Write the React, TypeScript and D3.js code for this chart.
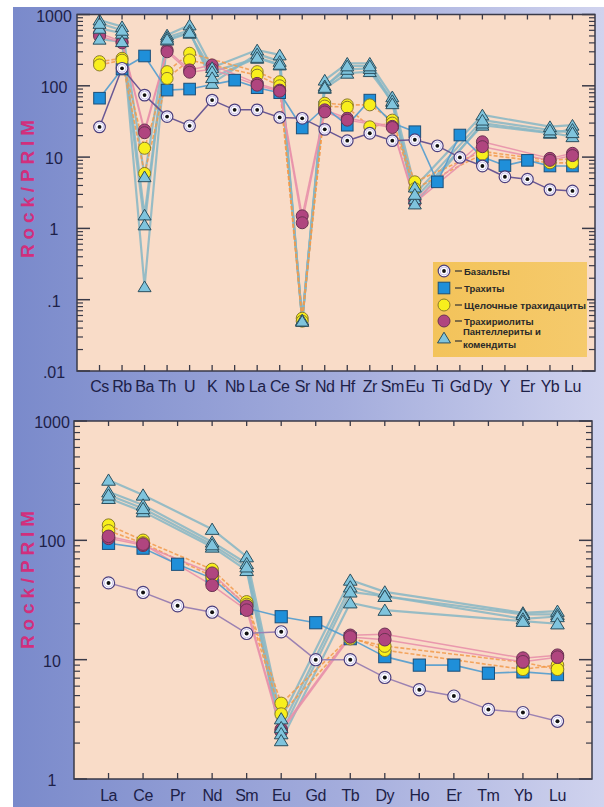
import React from "react";
import * as d3 from "d3";

const TOP_ELEMENTS = ["Cs","Rb","Ba","Th","U","K","Nb","La","Ce","Sr","Nd","Hf","Zr","Sm","Eu","Ti","Gd","Dy","Y","Er","Yb","Lu"];
const REE_ELEMENTS = ["La","Ce","Pr","Nd","Sm","Eu","Gd","Tb","Dy","Ho","Er","Tm","Yb","Lu"];

const Y_TICKS_TOP = [1000, 100, 10, 1, 0.1, 0.01];
const Y_TICK_LABELS_TOP = ["1000", "100", "10", "1", ".1", ".01"];
const Y_TICKS_BOT = [1000, 100, 10, 1];
const Y_TICK_LABELS_BOT = ["1000", "100", "10", "1"];

type V = number | null;

// ---- spider diagram (top) ----
const basaltTop: V[] = [26.5,176,74,37,27.5,63,46,46,36,35,24.5,17,21.6,17,17.5,14.4,9.9,7.5,5.3,4.9,3.5,3.35];
const trachyteTop: V[] = [67,172,262,87,90,null,120,94,80,25.6,50,28,63,30,22.7,4.5,20.4,10,7.6,9,7.5,7.5];
const yellowTop1: V[] = [218,243,13.3,158,286,null,null,158,114,0.055,57,54,54,33,4.5,null,null,12,null,null,9,9.5];
const yellowTop2: V[] = [196,229,5.9,127,230,null,null,141,100,0.05,52,50,26.6,30,3.6,null,null,11,null,null,8.3,8.3];
const purpleTop1: V[] = [545,416,24,318,167,196,null,108,87,1.5,46,35,null,27,2.5,null,null,16.4,null,null,9.6,11.3];
const purpleTop2: V[] = [500,400,22,300,155,170,null,102,84,1.2,43,33,null,26,2.3,null,null,14,null,null,9,10.5];
const triTop1: V[] = [837,675,5.3,516,713,180,null,318,271,0.05,120,207,207,70,3.8,null,null,39,null,null,26.7,28];
const triTop2: V[] = [640,545,1.54,437,545,158,null,243,196,0.05,92,150,158,60,2.6,null,null,28,null,null,21.6,24.5];
const triTop3: V[] = [450,416,1.12,480,600,108,null,280,220,0.052,100,170,175,62,2.2,null,null,30,null,null,22,19.3];
const triTop4: V[] = [750,600,0.152,450,560,130,null,250,200,0.05,95,190,190,56,3.0,null,null,33,null,null,24,22];

// ---- REE diagram (bottom) ----
const basaltBot: V[] = [44,36.6,28.3,25,16.6,17.1,10,10,7.1,5.6,4.95,3.83,3.6,3.05];
const trachyteBot: V[] = [94.4,86,63,48,27,22.9,20.4,15,10.6,9,9,7.7,7.9,7.5];
const yellowBot1: V[] = [134,100,null,57,30.5,4.3,null,15.5,12,null,null,null,8.3,9];
const yellowBot2: V[] = [120,95,null,50,29,3.5,null,15,13,null,null,null,9.5,8.3];
const purpleBot1: V[] = [104,91,null,53,28,2.6,null,16,16.3,null,null,null,10.3,10.9];
const purpleBot2: V[] = [108,93,null,42,26,2.5,null,15.5,14.7,null,null,null,9.6,10.5];
const triBot1: V[] = [320,240,null,124,73,3.2,null,46.5,37,null,null,null,24.7,25.5];
const triBot2: V[] = [255,198,null,97,64,2.7,null,40.8,34,null,null,null,24,24];
const triBot3: V[] = [225,174,null,88,56,2.4,null,37,34,null,null,null,22,23];
const triBot4: V[] = [240,185,null,92,60,2.1,null,30,26,null,null,null,21,20];

const LEGEND_LABELS = ["Базальты", "Трахиты", "Щелочные трахидациты", "Трахириолиты", "Пантеллериты и", "комендиты"];

type Kind = "basalt" | "trachyte" | "yellow" | "purple" | "tri";

const LINE_STYLE: Record<Kind, { stroke: string; width: number; op: number; dash?: string }> = {
  tri: { stroke: "#86b6c4", width: 2.2, op: 0.85 },
  yellow: { stroke: "#f29a4a", width: 1.6, op: 0.85, dash: "4,2" },
  purple: { stroke: "#e890aa", width: 1.5, op: 0.9 },
  trachyte: { stroke: "#5a9fcf", width: 1.6, op: 0.95 },
  basalt: { stroke: "#6e5c98", width: 1.5, op: 1 },
};

function Marker({ kind, x, y, s }: { kind: Kind; x: number; y: number; s: number }) {
  if (kind === "basalt") {
    return (
      <g>
        <circle cx={x} cy={y} r={5.8 * s} fill="#ffffff" stroke="#4c3f7e" strokeWidth={1.2} />
        <circle cx={x} cy={y} r={4 * s} fill="none" stroke="#c9c0ea" strokeWidth={1} />
        <circle cx={x} cy={y} r={1.9 * s} fill="#111" />
      </g>
    );
  }
  if (kind === "trachyte") {
    const h = 5.8 * s;
    return <rect x={x - h} y={y - h} width={2 * h} height={2 * h} fill="#1f8fd9" stroke="#1c4f78" strokeWidth={1} />;
  }
  if (kind === "yellow") {
    return <circle cx={x} cy={y} r={6 * s} fill="#f8ef1c" stroke="#8a7a2a" strokeWidth={1} />;
  }
  if (kind === "purple") {
    return <circle cx={x} cy={y} r={6 * s} fill="#b0457f" stroke="#6b3352" strokeWidth={1} />;
  }
  const w = 6.5 * s;
  const h = 5.8 * s;
  return (
    <path
      d={`M${x},${y - h}L${x + w},${y + h * 0.85}L${x - w},${y + h * 0.85}Z`}
      fill="#7fc4dd"
      stroke="#2b4f5e"
      strokeWidth={1}
    />
  );
}

interface PanelProps {
  cats: string[];
  series: { kind: Kind; values: V[] }[];
  x0: number; x1: number; y0: number; y1: number;
  yMax: number; yMin: number;
  ticks: number[]; tickLabels: string[];
  tickLabelX: number;
  catLabelY: number;
  yTitleCenter: number;
  basaltStroke: string;
  ms: number;
}

function Panel(p: PanelProps) {
  const x = d3.scalePoint<string>().domain(p.cats).range([p.x0, p.x1]).padding(1);
  const y = d3.scaleLog().domain([p.yMin, p.yMax]).range([p.y1, p.y0]);
  const line = d3
    .line<{ c: string; v: number }>()
    .x((d) => x(d.c) as number)
    .y((d) => y(d.v));

  const pts = (vals: V[]) =>
    p.cats.map((c, i) => ({ c, v: vals[i] })).filter((d) => d.v != null) as { c: string; v: number }[];

  const minor: number[] = [];
  for (let e = Math.round(Math.log10(p.yMin)); e < Math.round(Math.log10(p.yMax)); e++) {
    for (let k = 2; k <= 9; k++) minor.push(k * Math.pow(10, e));
  }

  const order: Kind[] = ["tri", "yellow", "purple", "trachyte", "basalt"];
  const markerOrder: Kind[] = ["trachyte", "yellow", "purple", "tri", "basalt"];

  return (
    <g>
      <rect x={p.x0} y={p.y0} width={p.x1 - p.x0} height={p.y1 - p.y0} fill="#f9dcc8" />
      {order.map((k) =>
        p.series
          .filter((s) => s.kind === k)
          .map((s, i) => {
            const st = LINE_STYLE[k];
            return (
              <path
                key={k + i}
                d={line(pts(s.values)) || ""}
                fill="none"
                stroke={k === "basalt" ? p.basaltStroke : st.stroke}
                strokeWidth={st.width}
                strokeOpacity={st.op}
                strokeDasharray={st.dash}
                strokeLinejoin="round"
              />
            );
          })
      )}
      {markerOrder.map((k) =>
        p.series
          .filter((s) => s.kind === k)
          .map((s, i) => (
            <g key={"m" + k + i}>
              {pts(s.values).map((d, j) => (
                <Marker key={j} kind={k} x={x(d.c) as number} y={y(d.v)} s={p.ms} />
              ))}
            </g>
          ))
      )}
      <rect x={p.x0} y={p.y0} width={p.x1 - p.x0} height={p.y1 - p.y0} fill="none" stroke="#3a3a48" strokeWidth={1.5} />
      {p.ticks.map((t, i) => (
        <g key={"yt" + i}>
          <line x1={p.x0} x2={p.x0 + 13} y1={y(t)} y2={y(t)} stroke="#3a3a48" strokeWidth={1.5} />
          <line x1={p.x1} x2={p.x1 - 13} y1={y(t)} y2={y(t)} stroke="#3a3a48" strokeWidth={1.5} />
          <text
            x={p.tickLabelX}
            y={y(t) + 7}
            textAnchor="middle"
            fontFamily="Liberation Sans, Arial, sans-serif"
            fontSize={16}
            fill="#1d2148"
          >
            {p.tickLabels[i]}
          </text>
        </g>
      ))}
      {minor.map((t, i) => (
        <g key={"mt" + i}>
          <line x1={p.x0} x2={p.x0 + 6} y1={y(t)} y2={y(t)} stroke="#3a3a48" strokeWidth={1.2} />
          <line x1={p.x1} x2={p.x1 - 6} y1={y(t)} y2={y(t)} stroke="#3a3a48" strokeWidth={1.2} />
        </g>
      ))}
      {p.cats.map((c) => (
        <g key={"xt" + c}>
          <line x1={x(c)} x2={x(c)} y1={p.y0} y2={p.y0 + 5} stroke="#3a3a48" strokeWidth={1.3} />
          <line x1={x(c)} x2={x(c)} y1={p.y1} y2={p.y1 - 6} stroke="#3a3a48" strokeWidth={1.3} />
          <text
            x={x(c)}
            y={p.catLabelY}
            textAnchor="middle"
            fontFamily="Liberation Sans, Arial, sans-serif"
            fontSize={16}
            fill="#1d2148"
            letterSpacing={-0.5}
          >
            {c}
          </text>
        </g>
      ))}
      <text
        transform={`translate(34,${p.yTitleCenter}) rotate(-90)`}
        textAnchor="middle"
        fontFamily="Liberation Sans, Arial, sans-serif"
        fontWeight="bold"
        fontSize={19}
        fill="#d22f7c"
        textLength={138}
        lengthAdjust="spacing"
      >
        Rock/PRIM
      </text>
    </g>
  );
}

export default function App() {
  const topSeries = [
    { kind: "tri" as Kind, values: triTop1 },
    { kind: "tri" as Kind, values: triTop2 },
    { kind: "tri" as Kind, values: triTop3 },
    { kind: "tri" as Kind, values: triTop4 },
    { kind: "yellow" as Kind, values: yellowTop1 },
    { kind: "yellow" as Kind, values: yellowTop2 },
    { kind: "purple" as Kind, values: purpleTop1 },
    { kind: "purple" as Kind, values: purpleTop2 },
    { kind: "trachyte" as Kind, values: trachyteTop },
    { kind: "basalt" as Kind, values: basaltTop },
  ];
  const botSeries = [
    { kind: "tri" as Kind, values: triBot1 },
    { kind: "tri" as Kind, values: triBot2 },
    { kind: "tri" as Kind, values: triBot3 },
    { kind: "tri" as Kind, values: triBot4 },
    { kind: "yellow" as Kind, values: yellowBot1 },
    { kind: "yellow" as Kind, values: yellowBot2 },
    { kind: "purple" as Kind, values: purpleBot1 },
    { kind: "purple" as Kind, values: purpleBot2 },
    { kind: "trachyte" as Kind, values: trachyteBot },
    { kind: "basalt" as Kind, values: basaltBot },
  ];

  const legendKinds: Kind[] = ["basalt", "trachyte", "yellow", "purple", "tri"];
  const legendRows = [271, 288, 305, 321, 338];

  return (
    <svg width={604} height={807} style={{ position: "absolute", left: 0, top: 0 }}>
      <defs>
        <linearGradient id="bg" x1="0" x2="1" y1="0" y2="0">
          <stop offset="0" stopColor="#7a8acb" />
          <stop offset="0.55" stopColor="#a3acdc" />
          <stop offset="1" stopColor="#d0d3ee" />
        </linearGradient>
        <linearGradient id="lg" x1="0" x2="1" y1="0" y2="0">
          <stop offset="0" stopColor="#f3c35a" />
          <stop offset="1" stopColor="#f5ca6c" />
        </linearGradient>
      </defs>
      <rect x={0} y={0} width={604} height={807} fill="#ffffff" />
      <rect x={13} y={7} width={591} height={800} fill="url(#bg)" />
      <Panel
        cats={TOP_ELEMENTS}
        series={topSeries}
        x0={77} x1={595} y0={14.5} y1={371}
        yMax={1000} yMin={0.01}
        ticks={Y_TICKS_TOP} tickLabels={Y_TICK_LABELS_TOP}
        tickLabelX={54}
        catLabelY={392}
        yTitleCenter={189}
        basaltStroke="#6a5894"
        ms={1}
      />
      <Panel
        cats={REE_ELEMENTS}
        series={botSeries}
        x0={74} x1={592} y0={421} y1={779}
        yMax={1000} yMin={1}
        ticks={Y_TICKS_BOT} tickLabels={Y_TICK_LABELS_BOT}
        tickLabelX={52}
        catLabelY={801}
        yTitleCenter={580}
        basaltStroke="#9c82b2"
        ms={1.05}
      />
      <g>
        <rect x={433} y={262} width={154} height={95} fill="url(#lg)" />
        {legendKinds.map((k, i) => (
          <g key={k}>
            <Marker kind={k} x={444} y={legendRows[i]} s={1} />
            <line x1={455} x2={462} y1={legendRows[i] + (k === "tri" ? 3 : 0)} y2={legendRows[i] + (k === "tri" ? 3 : 0)} stroke="#333" strokeWidth={1.2} />
          </g>
        ))}
        {LEGEND_LABELS.map((t, i) => (
          <text
            key={t}
            x={i >= 4 ? 463 : 464}
            y={i < 4 ? legendRows[i] + 3.5 : i === 4 ? 335 : 348}
            fontFamily="Liberation Sans, Arial, sans-serif"
            fontSize={9.5}
            fontWeight={600}
            fill="#2a2a2a"
            textLength={i === 2 ? 122 : undefined}
            lengthAdjust="spacingAndGlyphs"
          >
            {t}
          </text>
        ))}
      </g>
    </svg>
  );
}
